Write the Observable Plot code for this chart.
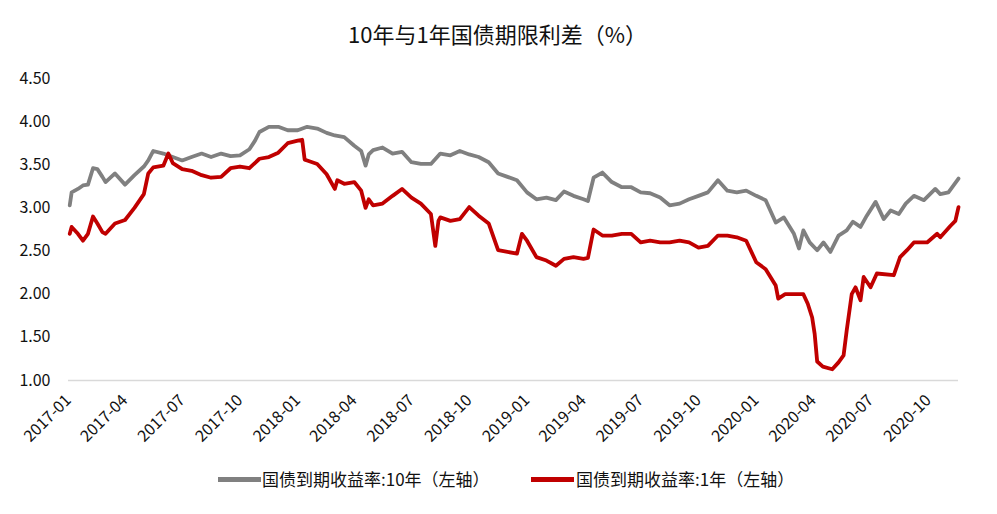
<!DOCTYPE html>
<html>
<head>
<meta charset="utf-8">
<script src="https://cdn.jsdelivr.net/npm/d3@7"></script>
<script src="https://cdn.jsdelivr.net/npm/@observablehq/plot@0.6"></script>
<style>
  html, body { margin: 0; padding: 0; background: #fff; }
  body { width: 997px; height: 514px; overflow: hidden; font-family: "Noto Sans CJK SC", "Noto Sans", sans-serif; color: #111; }
  #title { height: 58px; box-sizing: border-box; padding-top: 20px; padding-right: 2px; text-align: center; font-size: 22px; line-height: 26px; }
  #legend { position: relative; height: 46px; font-size: 17px; }
  .sw { position: absolute; height: 5px; width: 43px; top: 9px; }
  .lt { position: absolute; top: 0px; line-height: 22px; white-space: nowrap; color: #111; }
</style>
</head>
<body>
<div id="title">10年与1年国债期限利差（%）</div>
<div id="chart"></div>
<div id="legend">
  <div class="sw" style="left:218px;background:#808080"></div>
  <span class="lt" style="left:262px">国债到期收益率:10年（左轴）</span>
  <div class="sw" style="left:531px;background:#C00000"></div>
  <span class="lt" style="left:576px">国债到期收益率:1年（左轴）</span>
</div>
<script>
// 国债到期收益率:10年
const dates10 = [
  "2017-01-03","2017-01-06","2017-01-16","2017-01-24","2017-02-01","2017-02-09","2017-02-16","2017-02-24",
  "2017-03-01","2017-03-16","2017-04-01","2017-04-16","2017-05-01","2017-05-08","2017-05-16","2017-06-01",
  "2017-06-16","2017-07-01","2017-07-16","2017-08-01","2017-08-16","2017-09-01","2017-09-16","2017-10-01",
  "2017-10-16","2017-10-25","2017-11-01","2017-11-16","2017-12-01","2017-12-16","2018-01-01","2018-01-16",
  "2018-02-01","2018-02-16","2018-03-01","2018-03-16","2018-04-01","2018-04-12","2018-04-19","2018-04-24",
  "2018-05-01","2018-05-16","2018-06-01","2018-06-16","2018-07-01","2018-07-16","2018-08-01","2018-08-16",
  "2018-09-01","2018-09-16","2018-10-01","2018-10-16","2018-11-01","2018-11-16","2018-12-01","2018-12-16",
  "2019-01-01","2019-01-16","2019-02-01","2019-02-16","2019-03-01","2019-03-16","2019-04-01","2019-04-08",
  "2019-04-17","2019-05-01","2019-05-16","2019-06-01","2019-06-16","2019-07-01","2019-07-16","2019-08-01",
  "2019-08-16","2019-09-01","2019-09-16","2019-10-01","2019-10-16","2019-11-01","2019-11-16","2019-12-01",
  "2019-12-16","2020-01-01","2020-01-16","2020-02-01","2020-02-14","2020-03-01","2020-03-09","2020-03-16",
  "2020-03-26","2020-04-07","2020-04-17","2020-04-28","2020-05-11","2020-05-24","2020-06-03","2020-06-15",
  "2020-06-25","2020-07-09","2020-07-22","2020-08-02","2020-08-15","2020-08-26","2020-09-08","2020-09-24",
  "2020-10-12","2020-10-20","2020-11-02","2020-11-18"
];
const yield10 = [
  3.03,3.18,3.22,3.26,3.27,3.46,3.45,3.36,
  3.30,3.40,3.27,3.38,3.48,3.55,3.66,3.63,
  3.59,3.55,3.59,3.63,3.59,3.63,3.60,3.61,
  3.68,3.78,3.88,3.94,3.94,3.90,3.90,3.94,
  3.92,3.87,3.84,3.82,3.72,3.66,3.49,3.62,
  3.67,3.70,3.63,3.65,3.53,3.51,3.51,3.63,
  3.61,3.66,3.62,3.59,3.53,3.40,3.36,3.32,
  3.18,3.10,3.12,3.09,3.19,3.14,3.10,3.08,
  3.35,3.41,3.30,3.24,3.24,3.18,3.17,3.12,
  3.03,3.05,3.10,3.14,3.18,3.32,3.20,3.18,
  3.20,3.14,3.09,2.83,2.89,2.70,2.53,2.74,
  2.60,2.51,2.60,2.49,2.68,2.74,2.84,2.78,
  2.91,3.07,2.87,2.97,2.93,3.05,3.14,3.09,
  3.22,3.16,3.18,3.34
];

// 国债到期收益率:1年
const dates1 = [
  "2017-01-03","2017-01-06","2017-01-16","2017-01-24","2017-02-01","2017-02-09","2017-02-16","2017-02-24",
  "2017-03-01","2017-03-16","2017-04-01","2017-04-16","2017-05-01","2017-05-08","2017-05-16","2017-06-01",
  "2017-06-09","2017-06-16","2017-07-01","2017-07-16","2017-08-01","2017-08-16","2017-09-01","2017-09-16",
  "2017-10-01","2017-10-16","2017-11-01","2017-11-16","2017-12-01","2017-12-16","2018-01-01","2018-01-08",
  "2018-01-12","2018-01-16","2018-02-01","2018-02-16","2018-03-01","2018-03-05","2018-03-16","2018-04-01",
  "2018-04-12","2018-04-19","2018-04-24","2018-05-01","2018-05-16","2018-06-01","2018-06-16","2018-07-01",
  "2018-07-16","2018-08-01","2018-08-08","2018-08-13","2018-08-16","2018-09-01","2018-09-16","2018-10-01",
  "2018-10-16","2018-11-01","2018-11-16","2018-12-01","2018-12-16","2018-12-24","2019-01-01","2019-01-16",
  "2019-02-01","2019-02-16","2019-03-01","2019-03-16","2019-04-01","2019-04-08","2019-04-17","2019-05-01",
  "2019-05-16","2019-06-01","2019-06-16","2019-07-01","2019-07-16","2019-08-01","2019-08-16","2019-09-01",
  "2019-09-16","2019-10-01","2019-10-16","2019-11-01","2019-11-16","2019-12-01","2019-12-16","2020-01-01",
  "2020-01-16","2020-02-01","2020-02-05","2020-02-16","2020-03-01","2020-03-16","2020-03-23","2020-03-30",
  "2020-04-03","2020-04-07","2020-04-16","2020-05-01","2020-05-11","2020-05-19","2020-05-24","2020-06-01",
  "2020-06-07","2020-06-15","2020-06-20","2020-07-01","2020-07-11","2020-08-07","2020-08-17","2020-08-28",
  "2020-09-08","2020-09-29","2020-10-15","2020-10-20","2020-11-05","2020-11-13","2020-11-18"
];
const yield1 = [
  2.70,2.78,2.70,2.62,2.70,2.90,2.82,2.72,
  2.70,2.82,2.86,3.00,3.16,3.40,3.47,3.49,
  3.63,3.52,3.45,3.43,3.38,3.35,3.36,3.46,
  3.48,3.46,3.57,3.59,3.64,3.75,3.78,3.79,
  3.56,3.55,3.51,3.39,3.22,3.32,3.28,3.30,
  3.20,3.00,3.10,3.03,3.05,3.14,3.22,3.12,
  3.05,2.93,2.56,2.85,2.89,2.85,2.87,3.01,
  2.91,2.82,2.51,2.49,2.47,2.70,2.62,2.43,
  2.39,2.33,2.41,2.43,2.41,2.42,2.75,2.68,
  2.68,2.70,2.70,2.60,2.62,2.60,2.60,2.62,
  2.60,2.54,2.56,2.68,2.68,2.66,2.62,2.37,
  2.29,2.10,1.95,2.00,2.00,2.00,1.89,1.73,
  1.54,1.22,1.16,1.13,1.21,1.29,1.58,2.00,
  2.08,1.93,2.20,2.08,2.24,2.22,2.43,2.51,
  2.60,2.60,2.70,2.66,2.79,2.85,3.01
];

const yTicks = [1.0, 1.5, 2.0, 2.5, 3.0, 3.5, 4.0, 4.5];
const xTickLabels = ["2017-01","2017-04","2017-07","2017-10","2018-01","2018-04","2018-07","2018-10",
                     "2019-01","2019-04","2019-07","2019-10","2020-01","2020-04","2020-07","2020-10"];
const xStart = "2017-01-01", xEnd = "2020-11-18";

const s10 = dates10.map((d, i) => ({date: new Date(d), value: yield10[i]}));
const s1 = dates1.map((d, i) => ({date: new Date(d), value: yield1[i]}));

const chart = Plot.plot({
  width: 997,
  height: 410,
  marginTop: 20,
  marginRight: 39,
  marginBottom: 88,
  marginLeft: 68,
  style: {fontFamily: "'Noto Sans CJK SC', 'Noto Sans', sans-serif", fontSize: "16px", color: "#111", background: "transparent", overflow: "visible"},
  x: {
    type: "utc",
    domain: [new Date(xStart), new Date(xEnd)],
    ticks: xTickLabels.map(s => new Date(s + "-01")),
    tickFormat: d3.utcFormat("%Y-%m"),
    tickRotate: -45,
    tickSize: 0,
    tickPadding: 17,
    label: null
  },
  y: {
    domain: [1, 4.5],
    ticks: yTicks,
    tickFormat: d => d.toFixed(2),
    tickSize: 0,
    tickPadding: 18,
    label: null
  },
  marks: [
    Plot.ruleY([1], {stroke: "#d9d9d9", strokeWidth: 1.5}),
    Plot.lineY(s10, {x: "date", y: "value", stroke: "#808080", strokeWidth: 3.8}),
    Plot.lineY(s1, {x: "date", y: "value", stroke: "#C00000", strokeWidth: 3.8})
  ]
});
document.getElementById("chart").appendChild(chart);
</script>
</body>
</html>
